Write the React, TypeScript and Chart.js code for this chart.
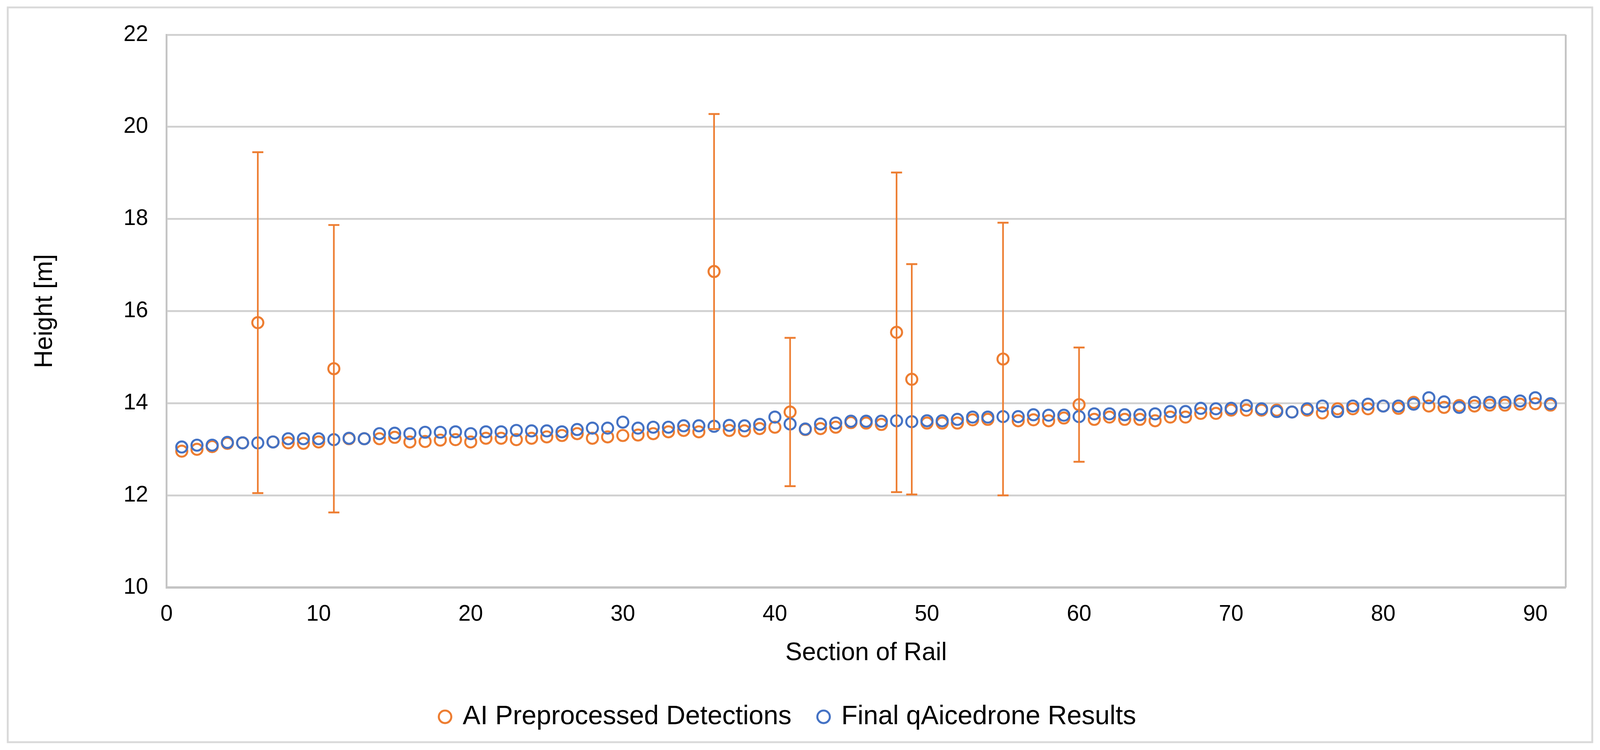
import React, { useEffect, useRef } from "react";
import { Chart, registerables } from "chart.js";

Chart.register(...registerables);

// ---------- data ----------
const sections: number[] = [
  1, 2, 3, 4, 5, 6, 7, 8, 9, 10, 11, 12, 13, 14, 15, 16, 17, 18, 19, 20,
  21, 22, 23, 24, 25, 26, 27, 28, 29, 30, 31, 32, 33, 34, 35, 36, 37, 38, 39, 40,
  41, 42, 43, 44, 45, 46, 47, 48, 49, 50, 51, 52, 53, 54, 55, 56, 57, 58, 59, 60,
  61, 62, 63, 64, 65, 66, 67, 68, 69, 70, 71, 72, 73, 74, 75, 76, 77, 78, 79, 80,
  81, 82, 83, 84, 85, 86, 87, 88, 89, 90, 91,
];

const aiValues: number[] = [
  12.96, 13.0, 13.06, 13.13, 13.14, 15.75, 13.16, 13.14, 13.13, 13.16,
  14.75, 13.23, 13.23, 13.23, 13.26, 13.16, 13.17, 13.2, 13.21, 13.16,
  13.24, 13.24, 13.21, 13.24, 13.27, 13.3, 13.34, 13.24, 13.27, 13.3,
  13.31, 13.34, 13.38, 13.41, 13.38, 16.86, 13.41, 13.4, 13.45, 13.48,
  13.81, 13.43, 13.45, 13.48, 13.58, 13.57, 13.54, 15.54, 14.52, 13.57,
  13.57, 13.57, 13.64, 13.65, 14.96, 13.62, 13.64, 13.62, 13.68, 13.97,
  13.65, 13.7, 13.65, 13.65, 13.62, 13.7, 13.7, 13.78, 13.78, 13.85,
  13.85, 13.85, 13.85, 13.81, 13.85, 13.79, 13.88, 13.88, 13.88, 13.94,
  13.89, 14.02, 13.94, 13.91, 13.95, 13.94, 13.96, 13.96, 13.98, 13.99,
  13.96,
];

const finalValues: number[] = [
  13.05, 13.09, 13.09, 13.15, 13.14, 13.14, 13.16, 13.23, 13.23, 13.23,
  13.21, 13.24, 13.23, 13.34, 13.35, 13.34, 13.37, 13.37, 13.38, 13.34,
  13.38, 13.38, 13.41, 13.4, 13.4, 13.38, 13.43, 13.46, 13.46, 13.59,
  13.46, 13.48, 13.48, 13.51, 13.51, 13.5, 13.52, 13.51, 13.54, 13.7,
  13.55, 13.44, 13.55, 13.57, 13.61, 13.61, 13.61, 13.62, 13.6, 13.62,
  13.62, 13.65, 13.7, 13.7, 13.71, 13.71, 13.75, 13.74, 13.74, 13.71,
  13.77, 13.77, 13.75, 13.75, 13.77, 13.82, 13.82, 13.89, 13.88, 13.89,
  13.95, 13.88, 13.82, 13.81, 13.88, 13.94, 13.82, 13.94, 13.98, 13.94,
  13.94, 13.98, 14.12, 14.03, 13.91, 14.02, 14.02, 14.02, 14.05, 14.12,
  13.99,
];

// symmetric error bars on the AI series
const errSections: number[] = [6, 11, 36, 41, 48, 49, 55, 60];
const errAmounts: number[] = [3.7, 3.12, 3.42, 1.61, 3.47, 2.5, 2.96, 1.24];

const xTicks: number[] = [0, 10, 20, 30, 40, 50, 60, 70, 80, 90];
const yTicks: number[] = [10, 12, 14, 16, 18, 20, 22];

const seriesLabels: string[] = ["AI Preprocessed Detections", "Final qAicedrone Results"];

// ---------- style ----------
const ORANGE = "#ED7D31";
const BLUE = "#4472C4";
const GRID = "#d0d0d0";
const AXIS = "#c4c4c4";
const FONT = "'Liberation Sans', Arial, sans-serif";
const REF_W = 4342;
const REF_H = 1920;

export default function App() {
  const canvasRef = useRef<HTMLCanvasElement | null>(null);

  useEffect(() => {
    document.body.style.margin = "0";
    document.body.style.overflow = "hidden";
    document.documentElement.style.overflow = "hidden";
    const canvas = canvasRef.current;
    if (!canvas) return;

    const W = window.innerWidth || REF_W;
    const H = window.innerHeight || REF_H;
    const sx = W / REF_W;
    const sy = H / REF_H;
    const s = Math.min(sx, sy);
    const X = (v: number) => v * sx;
    const Y = (v: number) => v * sy;
    const F = (v: number) => v * s;

    canvas.width = W;
    canvas.height = H;
    canvas.style.width = `${W}px`;
    canvas.style.height = `${H}px`;

    const legendFont = F(72);
    const legendPad = F(75);
    const legendHeight = legendFont + legendPad + 10;
    const padBottom = Y(41);
    const plotBottom = Y(1504);

    const framePlugin = {
      id: "frame",
      beforeDraw(chart: any) {
        const ctx = chart.ctx;
        ctx.save();
        ctx.fillStyle = "#ffffff";
        ctx.fillRect(0, 0, chart.width, chart.height);
        ctx.strokeStyle = "#d9d9d9";
        ctx.lineWidth = F(5);
        ctx.strokeRect(X(21), Y(19), chart.width - X(42), chart.height - Y(39));
        ctx.restore();
      },
      beforeDatasetsDraw(chart: any) {
        const { ctx, chartArea } = chart;
        ctx.save();
        ctx.strokeStyle = AXIS;
        ctx.lineWidth = F(5);
        ctx.beginPath();
        ctx.moveTo(chartArea.right, chartArea.top);
        ctx.lineTo(chartArea.right, chartArea.bottom);
        ctx.stroke();
        ctx.restore();
      },
    };

    const errorBarPlugin = {
      id: "errorBars",
      afterDatasetsDraw(chart: any) {
        const xs = chart.scales.x;
        const ys = chart.scales.y;
        const ctx = chart.ctx;
        ctx.save();
        ctx.strokeStyle = ORANGE;
        errSections.forEach((sec, i) => {
          const idx = sections.indexOf(sec);
          const v = aiValues[idx];
          const e = errAmounts[i];
          const px = xs.getPixelForValue(sec);
          const top = ys.getPixelForValue(v + e);
          const bot = ys.getPixelForValue(v - e);
          ctx.lineWidth = F(4.5);
          ctx.beginPath();
          ctx.moveTo(px, top);
          ctx.lineTo(px, bot);
          ctx.stroke();
          ctx.lineWidth = F(5);
          const cw = X(15);
          ctx.beginPath();
          ctx.moveTo(px - cw, top);
          ctx.lineTo(px + cw, top);
          ctx.moveTo(px - cw, bot);
          ctx.lineTo(px + cw, bot);
          ctx.stroke();
        });
        ctx.restore();
      },
    };

    const chart = new Chart(canvas, {
      type: "scatter",
      data: {
        datasets: [
          {
            label: seriesLabels[0],
            data: sections.map((sec, i) => ({ x: sec, y: aiValues[i] })),
            borderColor: ORANGE,
            backgroundColor: "rgba(0,0,0,0)",
            pointRadius: F(15),
            pointBorderWidth: F(5.5),
            borderWidth: F(5.5),
            pointStyle: "circle",
            showLine: false,
            order: 1,
          },
          {
            label: seriesLabels[1],
            data: sections.map((sec, i) => ({ x: sec, y: finalValues[i] })),
            borderColor: BLUE,
            backgroundColor: "rgba(0,0,0,0)",
            pointRadius: F(15),
            pointBorderWidth: F(5.5),
            borderWidth: F(5.5),
            pointStyle: "circle",
            showLine: false,
            order: 0,
          },
        ],
      },
      options: {
        animation: false,
        responsive: false,
        maintainAspectRatio: false,
        events: [],
        layout: { padding: { left: X(30), right: X(93), top: Y(89), bottom: padBottom } },
        plugins: {
          tooltip: { enabled: false },
          legend: {
            position: "bottom",
            labels: {
              usePointStyle: true,
              pointStyle: "circle",
              boxWidth: F(24),
              boxHeight: F(24),
              padding: legendPad,
              color: "#000000",
              font: { family: FONT, size: legendFont },
              sort: (a: any, b: any) => a.datasetIndex - b.datasetIndex,
            },
          },
        },
        scales: {
          x: {
            type: "linear",
            min: 0,
            max: 92,
            afterBuildTicks: (sc: any) => {
              sc.ticks = xTicks.map((v) => ({ value: v }));
            },
            afterFit: (sc: any) => {
              sc.height = H - padBottom - legendHeight - plotBottom;
            },
            grid: { display: false, drawTicks: false },
            border: { display: true, color: AXIS, width: F(6) },
            ticks: {
              padding: Y(35),
              color: "#000000",
              font: { family: FONT, size: F(60) },
              maxRotation: 0,
            },
            title: {
              display: true,
              text: "Section of Rail",
              color: "#000000",
              font: { family: FONT, size: F(68) },
              padding: { top: 0, bottom: Y(20) },
            },
          },
          y: {
            type: "linear",
            min: 10,
            max: 22,
            afterBuildTicks: (sc: any) => {
              sc.ticks = yTicks.map((v) => ({ value: v }));
            },
            afterFit: (sc: any) => {
              sc.width = X(452 - 30);
            },
            grid: { color: GRID, lineWidth: F(5), drawTicks: false },
            border: { display: true, color: AXIS, width: F(5) },
            ticks: {
              padding: X(50),
              color: "#000000",
              font: { family: FONT, size: F(60) },
            },
            title: {
              display: true,
              text: "Height [m]",
              color: "#000000",
              font: { family: FONT, size: F(68) },
              padding: { top: X(51), bottom: 0 },
            },
          },
        },
      },
      plugins: [framePlugin, errorBarPlugin],
    } as any);

    return () => {
      chart.destroy();
    };
  }, []);

  return <canvas ref={canvasRef} style={{ display: "block" }} />;
}
